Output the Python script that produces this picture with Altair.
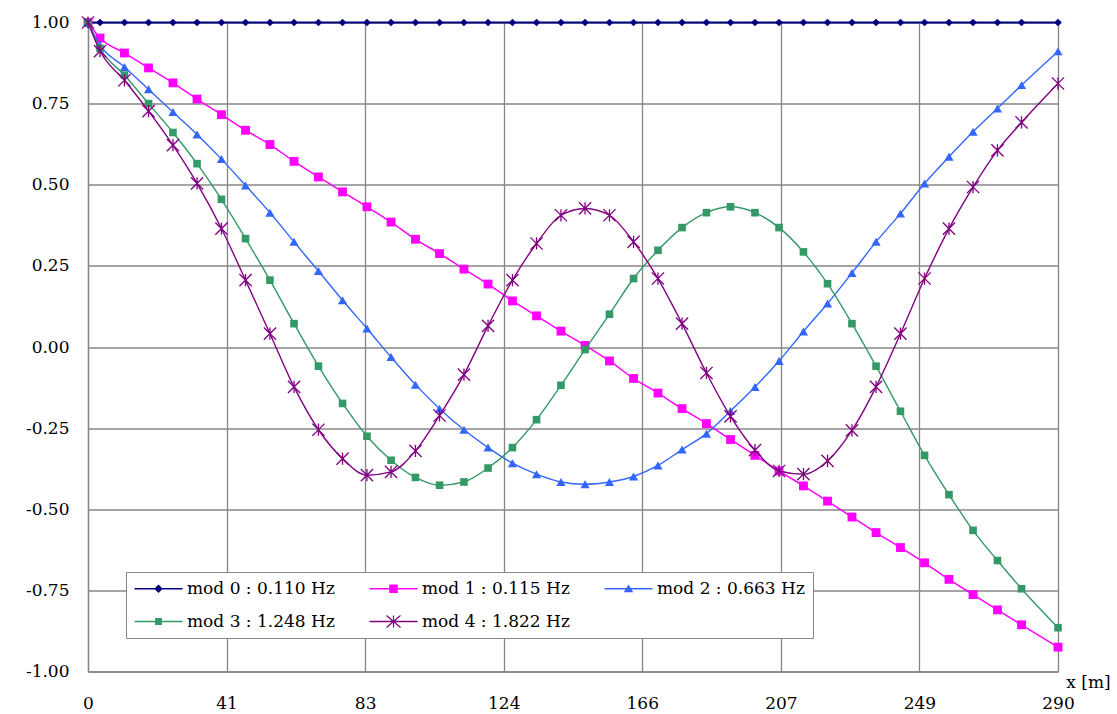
import altair as alt
import pandas as pd

# Station positions along the deck [m]
X_M = [0.0, 3.6, 10.9, 18.1, 25.4, 32.6, 39.9, 47.1, 54.4, 61.6, 68.9, 76.1, 83.4,
       90.6, 97.9, 105.1, 112.4, 119.6, 126.9, 134.1, 141.4, 148.6, 155.9, 163.1,
       170.4, 177.6, 184.9, 192.1, 199.4, 206.6, 213.9, 221.1, 228.4, 235.6, 242.9,
       250.1, 257.4, 264.6, 271.9, 279.1, 290.0]

# Normalised mode shapes at each station
MOD0 = [1.00, 1.00, 1.00, 1.00, 1.00, 1.00, 1.00, 1.00, 1.00, 1.00, 1.00, 1.00, 1.00,
        1.00, 1.00, 1.00, 1.00, 1.00, 1.00, 1.00, 1.00, 1.00, 1.00, 1.00, 1.00, 1.00,
        1.00, 1.00, 1.00, 1.00, 1.00, 1.00, 1.00, 1.00, 1.00, 1.00, 1.00, 1.00, 1.00,
        1.00, 1.00]
MOD1 = [1.000, 0.952, 0.906, 0.860, 0.814, 0.764, 0.716, 0.668, 0.624, 0.572, 0.524,
        0.478, 0.432, 0.385, 0.332, 0.288, 0.240, 0.194, 0.142, 0.096, 0.049, 0.005,
        -0.043, -0.097, -0.142, -0.190, -0.236, -0.285, -0.334, -0.382, -0.428, -0.475,
        -0.524, -0.572, -0.618, -0.665, -0.716, -0.763, -0.810, -0.856, -0.925]
MOD2 = [1.000, 0.930, 0.863, 0.794, 0.724, 0.655, 0.579, 0.498, 0.414, 0.324, 0.234,
        0.144, 0.057, -0.031, -0.116, -0.190, -0.255, -0.310, -0.358, -0.392, -0.416,
        -0.423, -0.416, -0.399, -0.365, -0.316, -0.267, -0.197, -0.123, -0.043, 0.048,
        0.134, 0.228, 0.324, 0.411, 0.504, 0.586, 0.663, 0.735, 0.807, 0.911]
MOD3 = [1.000, 0.920, 0.838, 0.750, 0.661, 0.565, 0.455, 0.334, 0.206, 0.072, -0.059,
        -0.174, -0.275, -0.349, -0.402, -0.426, -0.416, -0.373, -0.310, -0.224, -0.118,
        -0.008, 0.101, 0.211, 0.298, 0.368, 0.414, 0.432, 0.414, 0.368, 0.293, 0.195,
        0.072, -0.059, -0.198, -0.334, -0.455, -0.565, -0.658, -0.745, -0.865]
MOD4 = [1.000, 0.912, 0.822, 0.727, 0.622, 0.504, 0.365, 0.206, 0.041, -0.123, -0.255,
        -0.344, -0.395, -0.385, -0.320, -0.211, -0.085, 0.065, 0.206, 0.319, 0.406,
        0.427, 0.406, 0.324, 0.211, 0.072, -0.080, -0.214, -0.318, -0.382, -0.392,
        -0.351, -0.257, -0.123, 0.041, 0.211, 0.365, 0.493, 0.606, 0.692, 0.812]

LABELS = ["mod 0 : 0.110 Hz", "mod 1 : 0.115 Hz", "mod 2 : 0.663 Hz",
          "mod 3 : 1.248 Hz", "mod 4 : 1.822 Hz"]
COLORS = ["#000080", "#FF00FF", "#3366FF", "#339966", "#800080"]

X_TICKS = [0, 41.43, 82.86, 124.29, 165.71, 207.14, 248.57, 290]
Y_TICKS = [-1.0, -0.75, -0.5, -0.25, 0.0, 0.25, 0.5, 0.75, 1.0]

FONT = "DejaVu Serif"
FS = 17
GRID = "#868686"

rows = []
for label, ys in zip(LABELS, [MOD0, MOD1, MOD2, MOD3, MOD4]):
    for x, y in zip(X_M, ys):
        rows.append({"mode": label, "x": x, "y": y})
df = pd.DataFrame(rows)

x_enc = alt.X(
    "x:Q",
    scale=alt.Scale(domain=[0, 290], nice=False, zero=False),
    axis=alt.Axis(values=X_TICKS, labelExpr="format(datum.value, '.0f')",
                  title="x [m]", titleX=1000, titleY=11, titleAlign="center",
                  titleBaseline="middle", titleAngle=0, ticks=False, grid=True,
                  labelPadding=24, labelFlush=False, labelOverlap=False, labelBound=False),
)
y_enc = alt.Y(
    "y:Q",
    scale=alt.Scale(domain=[-1, 1], nice=False, zero=False),
    axis=alt.Axis(values=Y_TICKS,
                  labelExpr="replace(format(datum.value, '.2f'), '\u2212', '-')",
                  title=None, ticks=False, grid=True, labelPadding=19,
                  labelOverlap=False, labelBound=False),
)

STAR = "M-1,-1L1,1M-1,1L1,-1M0,-1L0,1"
MARKERS = [
    dict(shape="diamond", size=60, filled=True, line=2.0),
    dict(shape="square", size=78, filled=True, line=1.5),
    dict(shape="triangle-up", size=85, filled=True, line=1.4),
    dict(shape="square", size=58, filled=True, line=1.4),
    dict(shape=STAR, size=150, filled=False, line=1.4),
]

layers = []
for label, color, m in zip(LABELS, COLORS, MARKERS):
    base = alt.Chart(df).transform_filter(alt.datum.mode == label)
    layers.append(
        base.mark_line(color=color, strokeWidth=m["line"], interpolate="monotone")
        .encode(x=x_enc, y=y_enc)
    )
    if m["filled"]:
        pts = base.mark_point(shape=m["shape"], size=m["size"], filled=True,
                              color=color, opacity=1)
    else:
        pts = base.mark_point(shape=m["shape"], size=m["size"], filled=False,
                              color=color, strokeWidth=1.3, opacity=1)
    layers.append(pts.encode(x=x_enc, y=y_enc))


# Legend glyphs: a 48 px line segment with the series marker in its middle.
# The reserved symbol box is 16 px (2 units of 8 px); the glyph runs to its right.
U = 8.0
CX = 2.0  # glyph centre, in units, from the symbol anchor


def poly(pts):
    pts = [(x + CX, y) for x, y in pts]
    area = sum(x0 * y1 - x1 * y0 for (x0, y0), (x1, y1) in zip(pts, pts[1:] + pts[:1]))
    if area < 0:
        pts = pts[::-1]
    return "M" + "L".join(f"{x:.4f},{y:.4f}" for x, y in pts) + "Z"


def bar(p0, p1, half):
    (x0, y0), (x1, y1) = p0, p1
    dx, dy = x1 - x0, y1 - y0
    ln = (dx * dx + dy * dy) ** 0.5
    nx, ny = -dy / ln * half, dx / ln * half
    return poly([(x0 + nx, y0 + ny), (x1 + nx, y1 + ny), (x1 - nx, y1 - ny), (x0 - nx, y0 - ny)])


def px(v):
    return v / U


seg = bar((px(-24), 0), (px(24), 0), px(0.75))
d = px(4.2)
s1 = px(4.3)
s3 = px(3.4)
tr = px(4.8)
a, b = px(7), px(6)
LEGEND_PATHS = [
    seg + poly([(0, -d), (d, 0), (0, d), (-d, 0)]),
    seg + poly([(-s1, -s1), (s1, -s1), (s1, s1), (-s1, s1)]),
    seg + poly([(0, -tr * 0.9), (tr, tr * 0.75), (-tr, tr * 0.75)]),
    seg + poly([(-s3, -s3), (s3, -s3), (s3, s3), (-s3, s3)]),
    seg + bar((-a, -b), (a, b), px(0.6)) + bar((-a, b), (a, -b), px(0.6))
    + bar((0, -b), (0, b), px(0.6)),
]

legend = alt.Legend(
    orient="none", legendX=38, legendY=549.5, columns=3, direction="horizontal",
    title=None, labelFont=FONT, labelFontSize=FS, labelColor="black",
    labelOffset=36, labelLimit=0,
    symbolSize=(2 * U) ** 2, symbolStrokeWidth=0, symbolOpacity=1,
    strokeColor=GRID, fillColor="white", padding=8, rowPadding=15, columnPadding=34,
)

legend_layer = alt.Chart(pd.DataFrame({"entry": LABELS})).mark_point(
    filled=True, opacity=0
).encode(
    x=alt.value(0),
    y=alt.value(0),
    color=alt.Color("entry:N", scale=alt.Scale(domain=LABELS, range=COLORS), legend=legend),
    shape=alt.Shape("entry:N", scale=alt.Scale(domain=LABELS, range=LEGEND_PATHS), legend=legend),
)

chart = (
    alt.layer(*layers, legend_layer)
    .properties(
        width=970, height=649,
        padding={"left": 88, "top": 22.5, "right": 59, "bottom": 42.5},
        autosize=alt.AutoSizeParams(type="none"),
        background="white",
    )
    .configure_view(stroke=None)
    .configure_axis(
        labelFont=FONT, labelFontSize=FS, labelColor="black",
        titleFont=FONT, titleFontSize=FS, titleFontWeight="normal", titleColor="black",
        gridColor=GRID, gridWidth=1.3, gridOpacity=1,
        domainColor=GRID, domainWidth=1.3,
    )
)

chart.save("out.html", embed_options={"renderer": "svg", "actions": False})
